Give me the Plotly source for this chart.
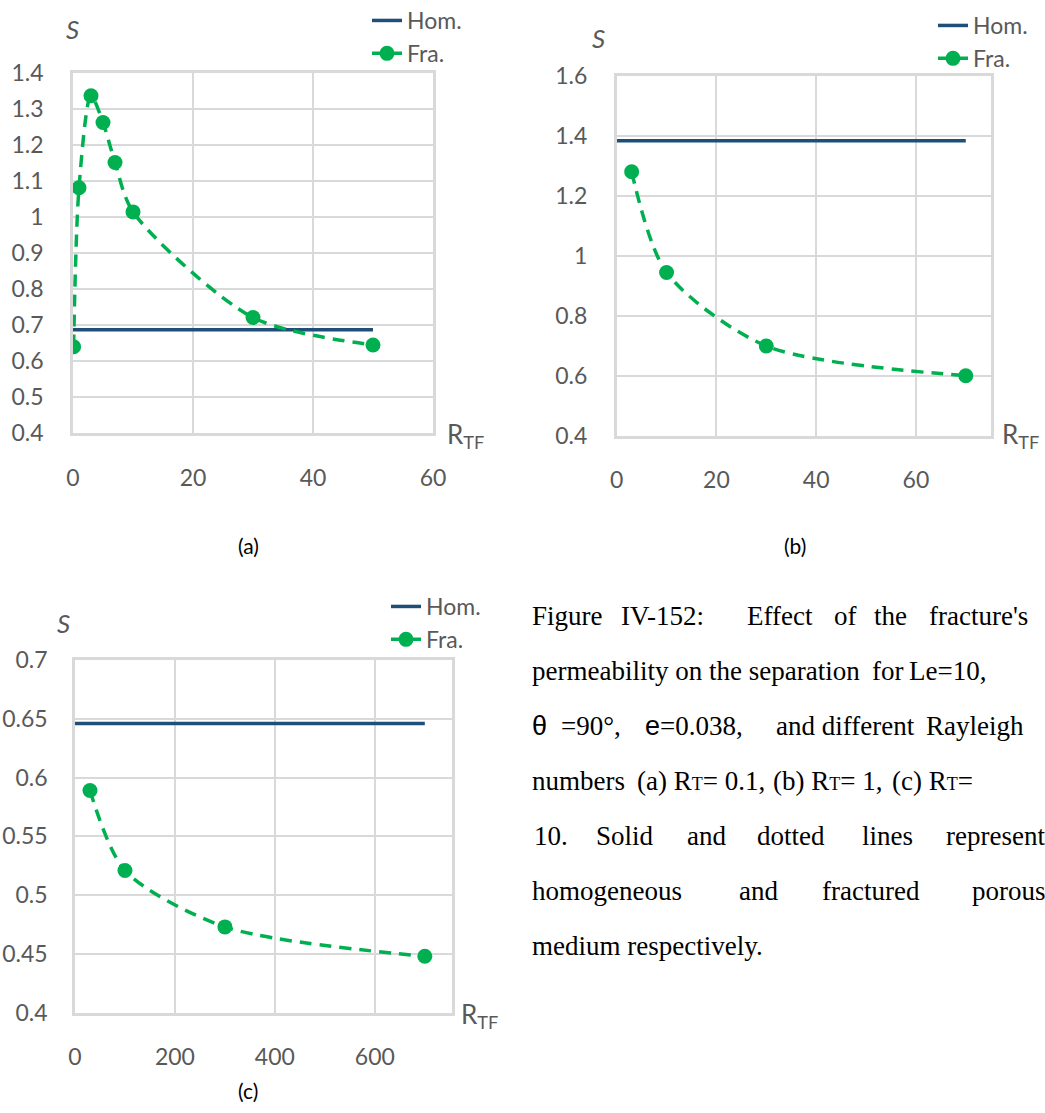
import plotly.graph_objects as go

W, H = 1045, 1113

# ---------------- data ----------------
# panel (a)  R_T = 0.1
a_frac_x = [0.1, 1, 3, 5, 7, 10, 30, 50]
a_frac_y = [0.640, 1.081, 1.336, 1.262, 1.151, 1.014, 0.721, 0.645]
a_hom_x = [0, 50]
a_hom_y = [0.687, 0.687]
a_yticks = [0.4, 0.5, 0.6, 0.7, 0.8, 0.9, 1.0, 1.1, 1.2, 1.3, 1.4]
a_ytext = ["0.4", "0.5", "0.6", "0.7", "0.8", "0.9", "1", "1.1", "1.2", "1.3", "1.4"]
a_xticks = [0, 20, 40, 60]

# panel (b)  R_T = 1
b_frac_x = [3, 10, 30, 70]
b_frac_y = [1.281, 0.945, 0.700, 0.601]
b_hom_x = [0, 70]
b_hom_y = [1.384, 1.384]
b_yticks = [0.4, 0.6, 0.8, 1.0, 1.2, 1.4, 1.6]
b_ytext = ["0.4", "0.6", "0.8", "1", "1.2", "1.4", "1.6"]
b_xticks = [0, 20, 40, 60]

# panel (c)  R_T = 10
c_frac_x = [30, 100, 300, 700]
c_frac_y = [0.589, 0.521, 0.473, 0.448]
c_hom_x = [0, 700]
c_hom_y = [0.646, 0.646]
c_yticks = [0.4, 0.45, 0.5, 0.55, 0.6, 0.65, 0.7]
c_ytext = ["0.4", "0.45", "0.5", "0.55", "0.6", "0.65", "0.7"]
c_xticks = [0, 200, 400, 600]

series_names = ["Hom.", "Fra."]

HOM_COLOR = "#1f4e79"
FRA_COLOR = "#00b050"
GRID = "#d9d9d9"
TXT = "#595959"
FONT = "Lato"
TICK = 23


def px(x):
    return x / W


def py(y):
    return 1 - y / H


fig = go.Figure()

panels = [
    ("", a_hom_x, a_hom_y, a_frac_x, a_frac_y, "legend"),
    ("2", b_hom_x, b_hom_y, b_frac_x, b_frac_y, "legend2"),
    ("3", c_hom_x, c_hom_y, c_frac_x, c_frac_y, "legend3"),
]
for i, (s, hx, hy, fx, fy, lg) in enumerate(panels):
    fig.add_trace(go.Scatter(
        x=hx, y=hy, mode="lines", name=series_names[0],
        line=dict(color=HOM_COLOR, width=3.5),
        xaxis="x" + s, yaxis="y" + s, legend=lg, legendgroup="h%d" % i,
    ))
    fig.add_trace(go.Scatter(
        x=fx, y=fy, mode="lines+markers", name=series_names[1],
        line=dict(color=FRA_COLOR, width=3.5, dash="12px,8px", shape="spline", smoothing=0.8),
        marker=dict(color=FRA_COLOR, size=15, symbol="circle"),
        xaxis="x" + s, yaxis="y" + s, legend=lg, legendgroup="f%d" % i,
    ))


def xaxis(domain, rng, ticks, anchor):
    return dict(domain=domain, range=rng, tickmode="array", tickvals=ticks,
                ticktext=[str(t) for t in ticks], showgrid=True, gridcolor=GRID,
                gridwidth=2, showline=True, linecolor=GRID, linewidth=2.5, mirror=True,
                zeroline=False, ticks="", ticklabelstandoff=22, automargin=False,
                tickfont=dict(family=FONT, size=TICK, color=TXT), anchor=anchor,
                fixedrange=True)


def yaxis(domain, rng, ticks, text, anchor, standoff=22):
    return dict(domain=domain, range=rng, tickmode="array", tickvals=ticks,
                ticktext=text, showgrid=True, gridcolor=GRID, gridwidth=2,
                showline=True, linecolor=GRID, linewidth=2.5, mirror=True,
                zeroline=False, ticks="", ticklabelstandoff=standoff, automargin=False,
                tickfont=dict(family=FONT, size=TICK, color=TXT), anchor=anchor,
                fixedrange=True)


fig.update_layout(
    width=W, height=H,
    margin=dict(l=0, r=0, t=0, b=0, autoexpand=False),
    paper_bgcolor="white", plot_bgcolor="white",
    font=dict(family=FONT, color=TXT),
    xaxis=xaxis([px(73), px(433)], [0, 60], a_xticks, "y"),
    yaxis=yaxis([py(433.3), py(72.7)], [0.4, 1.4], a_yticks, a_ytext, "x"),
    xaxis2=xaxis([px(616.7), px(990.7)], [0, 75], b_xticks, "y2"),
    yaxis2=yaxis([py(436), py(76)], [0.4, 1.6], b_yticks, b_ytext, "x2"),
    xaxis3=xaxis([px(75), px(452.3)], [0, 755], c_xticks, "y3"),
    yaxis3=yaxis([py(1012.7), py(660)], [0.4, 0.7], c_yticks, c_ytext, "x3", standoff=20),
)

leg_common = dict(xanchor="left", yanchor="top", bgcolor="rgba(0,0,0,0)",
                  font=dict(family=FONT, size=23, color=TXT), tracegroupgap=0,
                  itemwidth=30, borderwidth=0)
fig.update_layout(
    legend=dict(x=px(367), y=py(-1), **leg_common),
    legend2=dict(x=px(933), y=py(4), **leg_common),
    legend3=dict(x=px(386), y=py(585), **leg_common),
)

ann = []
# axis titles S
for (x, y) in [(72, 29), (598, 38), (63, 623)]:
    ann.append(dict(x=px(x), y=py(y), xref="paper", yref="paper", text="<i>S</i>",
                    showarrow=False, xanchor="center", yanchor="middle",
                    font=dict(family=FONT, size=26, color=TXT)))
# R_TF labels
for (x, y) in [(445, 435), (1000, 435), (459, 1015)]:
    ann.append(dict(x=px(x), y=py(y), xref="paper", yref="paper", text="R<sub>TF</sub>",
                    showarrow=False, xanchor="left", yanchor="middle",
                    font=dict(family=FONT, size=26, color=TXT)))
# panel captions
for (x, y, t) in [(248, 545, "(a)"), (795, 545, "(b)"), (248, 1090, "(c)")]:
    ann.append(dict(x=px(x), y=py(y), xref="paper", yref="paper", text=t,
                    showarrow=False, xanchor="center", yanchor="middle",
                    font=dict(family=FONT, size=21, color="#000000")))

# figure caption (justified lines placed segment by segment)
SERIF = "Liberation Serif"
CAP = 27
sans = "<span style='font-family:Liberation Sans'>%s</span>"
RT = "R<span style='font-size:18px'>T</span>="
caption_words = [
    (625, [(533, "Figure"), (622, "IV-152:"), (748, "Effect"), (835, "of"),
           (875, "the"), (930, "fracture's")]),
    (680, [(533, "permeability on the separation"), (873, "for"), (910, "Le=10,")]),
    (735, [(533, sans % "θ"), (562, "=90°,"), (646, (sans % "e") + "=0.038,"),
           (777, "and different"), (927, "Rayleigh")]),
    (790, [(533, "numbers"), (638, "(a) " + RT + " 0.1,"), (774, "(b) " + RT + " 1,"),
           (893, "(c) " + RT)]),
    (845, [(535, "10."), (597, "Solid"), (688, "and"), (758, "dotted"), (863, "lines"),
           (947, "represent")]),
    (900, [(533, "homogeneous"), (740, "and"), (823, "fractured"), (973, "porous")]),
    (955, [(533, "medium respectively.")]),
]
for base, words in caption_words:
    for (x, t) in words:
        ann.append(dict(x=px(x - 3), y=py(base - 9), xref="paper", yref="paper", text=t,
                        showarrow=False, xanchor="left", yanchor="middle",
                        font=dict(family=SERIF, size=CAP, color="#000000")))

fig.update_layout(annotations=ann)

fig.write_html("out.html")
